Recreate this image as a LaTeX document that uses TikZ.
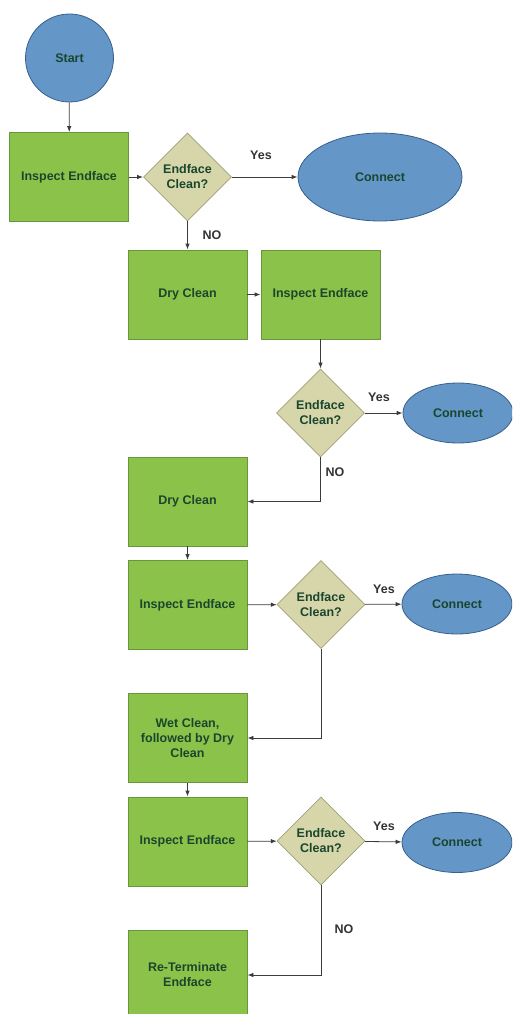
\documentclass[tikz,border=0pt]{standalone}
\usepackage{fontspec}
\setmainfont{Liberation Sans}
\usetikzlibrary{shapes.geometric, arrows.meta}

\definecolor{boxgreen}{RGB}{139,195,74}
\definecolor{boxedge}{RGB}{105,150,60}
\definecolor{endblue}{RGB}{100,150,200}
\definecolor{endedge}{RGB}{55,95,140}
\definecolor{askfill}{RGB}{214,214,170}
\definecolor{askedge}{RGB}{160,160,120}
\definecolor{txtgreen}{RGB}{25,70,45}
\definecolor{linegray}{RGB}{60,60,60}

\begin{document}
\begin{tikzpicture}[x=1pt, y=-1pt,
    stepbox/.style={rectangle, draw=boxedge, fill=boxgreen, thick,
        minimum width=119pt, minimum height=89pt, inner sep=2pt,
        align=center, text=txtgreen, font=\bfseries\fontsize{12.5}{15}\selectfont},
    endnode/.style={ellipse, draw=endedge, fill=endblue, thick,
        minimum width=110pt, minimum height=60pt, inner sep=0pt,
        text=txtgreen, font=\bfseries\fontsize{12.5}{15}\selectfont},
    ask/.style={diamond, draw=askedge, fill=askfill, thick,
        minimum width=88pt, minimum height=88pt, inner sep=0pt,
        align=center, text=txtgreen, font=\bfseries\fontsize{12.5}{15}\selectfont},
    answer/.style={text=black!80, font=\bfseries\fontsize{12.5}{15}\selectfont},
    edge/.style={draw=linegray, thick, -{Latex[length=6pt, width=4.5pt]}}
]
    \useasboundingbox (0,0) rectangle (512,1014);
    \clip (0,0) rectangle (512,1014);

    \node[endnode, circle, minimum size=88pt] (start) at (69.5,58) {Start};
    \node[stepbox] (look1) at (69,177) {Inspect Endface};
    \node[ask] (ask1) at (187.5,177) {Endface\\Clean?};
    \node[endnode, minimum width=164pt, minimum height=88pt] (done1) at (380,177) {Connect};
    \node[stepbox] (dry1) at (187.5,294.5) {Dry Clean};
    \node[stepbox] (look2) at (320.5,294.5) {Inspect Endface};
    \node[ask] (ask2) at (320.5,413) {Endface\\Clean?};
    \node[endnode] (done2) at (458,413) {Connect};
    \node[stepbox] (dry2) at (187.5,501.5) {Dry Clean};
    \node[stepbox] (look3) at (187.5,605) {Inspect Endface};
    \node[ask] (ask3) at (321,604.5) {Endface\\Clean?};
    \node[endnode] (done3) at (457,604) {Connect};
    \node[stepbox] (wet) at (187.5,738) {Wet Clean,\\followed by Dry\\Clean};
    \node[stepbox] (look4) at (187.5,841.5) {Inspect Endface};
    \node[ask] (ask4) at (321,841) {Endface\\Clean?};
    \node[endnode] (done4) at (457,842.5) {Connect};
    \node[stepbox] (reterm) at (187.5,975) {Re-Terminate\\Endface};

    \node[answer] (yes1) at (261,155) {Yes};
    \node[answer] (no1) at (212,235) {NO};
    \node[answer] (yes2) at (379,397) {Yes};
    \node[answer] (no2) at (335,472) {NO};
    \node[answer] (yes3) at (384,589) {Yes};
    \node[answer] (yes4) at (384,826) {Yes};
    \node[answer] (no4) at (344,929) {NO};

    \draw[edge] (start) -- (look1);
    \draw[edge] (look1) -- (ask1);
    \draw[edge] (ask1) -- (done1);
    \draw[edge] (ask1) -- (dry1);
    \draw[edge] (dry1) -- (look2);
    \draw[edge] (look2) -- (ask2);
    \draw[edge] (ask2) -- (done2);
    \draw[edge] (ask2.south) |- (dry2.east);
    \draw[edge] (dry2) -- (look3);
    \draw[edge] (look3) -- (ask3);
    \draw[edge] (ask3) -- (done3);
    \draw[edge] (ask3.south) |- (wet.east);
    \draw[edge] (wet) -- (look4);
    \draw[edge] (look4) -- (ask4);
    \draw[edge] (ask4) -- (done4);
    \draw[edge] (ask4.south) |- (reterm.east);
\end{tikzpicture}
\end{document}
